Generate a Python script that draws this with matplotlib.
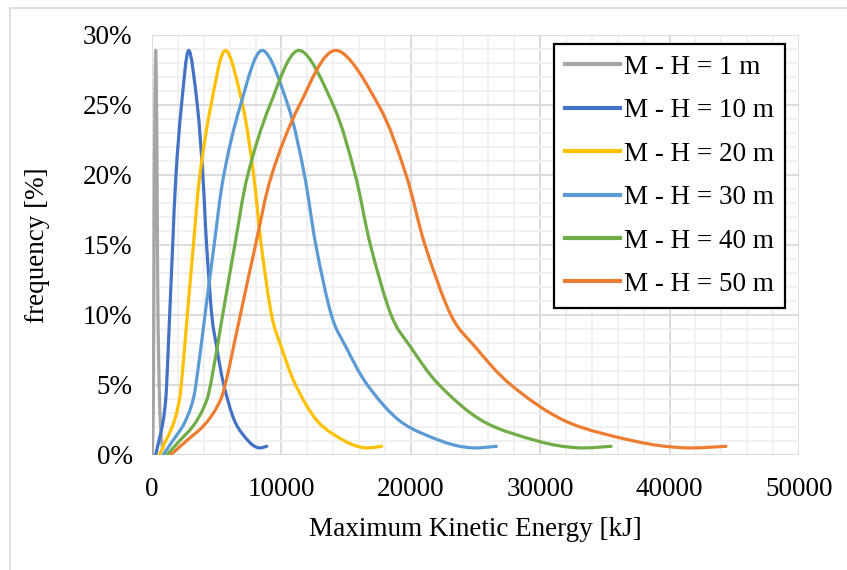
import matplotlib.pyplot as plt
from matplotlib.patches import Rectangle, PathPatch
from matplotlib.path import Path
from matplotlib.ticker import MultipleLocator

# region data
labels = ['M - H = 1 m', 'M - H = 10 m', 'M - H = 20 m',
          'M - H = 30 m', 'M - H = 40 m', 'M - H = 50 m']
colors = ['#A5A5A5', '#4472C4', '#FFC000', '#5B9BD5', '#70AD47', '#ED7D31']

# frequency [%] - all six curves share the same shape,
# only the energy axis stretches with M - H
freq = [0.0, 1.0, 2.1, 3.4, 5.0, 10.0, 15.0, 20.0, 25.0, 28.9,
        25.0, 20.1, 15.0, 10.0, 7.7, 5.0, 2.4, 1.0, 0.52, 0.62]

# maximum kinetic energy [kJ] for each curve
e_1m = [28.5, 53, 80, 100, 113, 136.5, 160, 185, 228, 284,
        350, 392, 422, 462, 500, 555, 640, 745, 820, 887]
e_10m = [285, 530, 800, 1000, 1130, 1365, 1600, 1850, 2280, 2840,
         3500, 3920, 4220, 4620, 5000, 5550, 6400, 7450, 8200, 8870]
e_20m = [570, 1060, 1600, 2000, 2260, 2730, 3200, 3700, 4560, 5680,
         7000, 7840, 8440, 9240, 10000, 11100, 12800, 14900, 16400, 17740]
e_30m = [855, 1590, 2400, 3000, 3390, 4095, 4800, 5550, 6840, 8520,
         10500, 11760, 12660, 13860, 15000, 16650, 19200, 22350, 24600, 26610]
e_40m = [1140, 2120, 3200, 4000, 4520, 5460, 6400, 7400, 9120, 11360,
         14000, 15680, 16880, 18480, 20000, 22200, 25600, 29800, 32800, 35480]
e_50m = [1425, 2650, 4000, 5000, 5650, 6825, 8000, 9250, 11400, 14200,
         17500, 19600, 21100, 23100, 25000, 27750, 32000, 37250, 41000, 44350]

x_ticks = [0, 10000, 20000, 30000, 40000, 50000]
y_ticks = [0, 5, 10, 15, 20, 25, 30]
# endregion


def smooth_path(x, y):
    '''
    Build a bezier path through the data points (catmull-rom style),
    this is how excel draws a "smoothed line" series.
    '''
    pts = list(zip(x, y))
    n = len(pts)
    verts = [pts[0]]
    codes = [Path.MOVETO]
    for i in range(n - 1):
        p0 = pts[i - 1] if i > 0 else pts[i]
        p1 = pts[i]
        p2 = pts[i + 1]
        p3 = pts[i + 2] if i + 2 < n else pts[i + 1]
        c1 = (p1[0] + (p2[0] - p0[0]) / 6, p1[1] + (p2[1] - p0[1]) / 6)
        c2 = (p2[0] - (p3[0] - p1[0]) / 6, p2[1] - (p3[1] - p1[1]) / 6)
        verts += [c1, c2, p2]
        codes += [Path.CURVE4] * 3
    return Path(verts, codes)


def main():
    plt.rcParams['font.family'] = ['Liberation Serif', 'DejaVu Serif']
    fs = 19.5

    fig = plt.figure(figsize=(8.47, 5.70), dpi=100)
    # light chart border like the excel chart area
    fig.patches.append(Rectangle((10 / 847, -0.05), 1.2, 1.05 - 8 / 570,
                                 transform=fig.transFigure, fill=False,
                                 edgecolor='#D9D9D9', lw=1.2))
    ax = fig.add_axes([152 / 847, 1 - 455 / 570, (799 - 152) / 847, (455 - 35) / 570])

    energies = [e_1m, e_10m, e_20m, e_30m, e_40m, e_50m]
    for e, lab, c in zip(energies, labels, colors):
        patch = PathPatch(smooth_path(e, freq), fill=False, edgecolor=c, lw=2.3,
                          capstyle='round', joinstyle='round', zorder=3)
        ax.add_patch(patch)
        # empty line only for the legend entry
        ax.plot([], [], color=c, lw=3, label=lab)

    ax.set_xlim(0, 50000)
    ax.set_ylim(0, 30)
    ax.set_xticks(x_ticks)
    ax.set_xticklabels([str(v) for v in x_ticks])
    ax.set_yticks(y_ticks)
    ax.set_yticklabels([f'{v}%' for v in y_ticks])
    ax.xaxis.set_minor_locator(MultipleLocator(2000))
    ax.yaxis.set_minor_locator(MultipleLocator(1))

    # gridlines: light minor, grey major
    ax.grid(which='minor', color='#F0F0F0', lw=1.3, zorder=0)
    ax.grid(which='major', color='#D9D9D9', lw=1.3, zorder=1)
    ax.set_axisbelow(True)
    for s in ax.spines.values():
        s.set_visible(False)
    ax.tick_params(which='both', length=0, labelsize=fs)
    ax.tick_params(axis='x', pad=16)
    ax.tick_params(axis='y', pad=14)

    ax.set_xlabel('Maximum Kinetic Energy [kJ]', fontsize=fs, labelpad=11)
    ax.set_ylabel('frequency [%]', fontsize=fs, labelpad=24)

    leg = ax.legend(loc='upper right', bbox_to_anchor=(785 / 847, 1 - 44 / 570),
                    bbox_transform=fig.transFigure, borderaxespad=0,
                    fontsize=fs, fancybox=False, framealpha=1,
                    handlelength=2.05, handletextpad=0.15, labelspacing=0.68,
                    borderpad=0.4)
    leg.get_frame().set_edgecolor('black')
    leg.get_frame().set_linewidth(1.6)

    fig.savefig('out.png', dpi=100)


if __name__ == "__main__":
    main()
